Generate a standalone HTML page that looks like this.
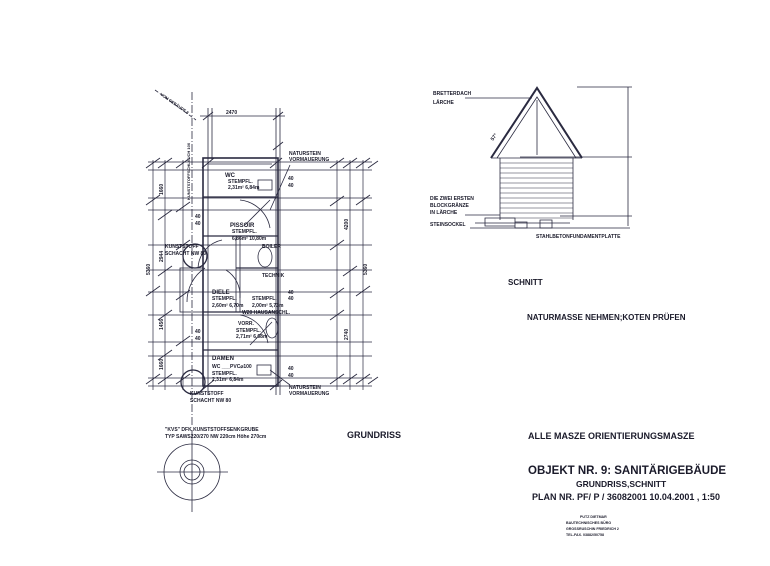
<!DOCTYPE html>
<html><head><meta charset="utf-8">
<style>
html,body{margin:0;padding:0;background:#fff;width:770px;height:566px;overflow:hidden}
svg{display:block}
text{font-family:"Liberation Sans",Arial,sans-serif;font-weight:bold;fill:#1a1a2a}
</style></head>
<body>
<svg width="770" height="566" viewBox="0 0 770 566" xmlns="http://www.w3.org/2000/svg">
<g id="plan" stroke="#2a2a40" fill="none" stroke-width="0.8">
 <!-- centerline -->
 <line x1="192" y1="92" x2="192" y2="425" stroke-dasharray="8,2,1,2"/>
 <line x1="155" y1="90" x2="196" y2="120" stroke-dasharray="4,2"/>
 <!-- top dimension -->
 <line x1="200" y1="116" x2="285" y2="116"/>
 <line x1="208" y1="108" x2="208" y2="395"/>
 <line x1="212" y1="108" x2="212" y2="160"/>
 <line x1="276" y1="108" x2="276" y2="395"/>
 <line x1="280" y1="108" x2="280" y2="395"/>
 <!-- walls -->
 <rect x="203" y="158" width="75" height="228" stroke-width="1.6"/>
 <line x1="208" y1="164" x2="272" y2="164"/>
 <line x1="203" y1="197" x2="278" y2="197" stroke-width="1.2"/>
 <line x1="203" y1="236" x2="278" y2="236" stroke-width="1.2"/>
 <line x1="236" y1="236" x2="236" y2="312"/>
 <line x1="240" y1="236" x2="240" y2="312"/>
 <line x1="236" y1="268" x2="278" y2="268" stroke-width="1.2"/>
 <line x1="203" y1="312" x2="278" y2="312" stroke-width="1.2"/>
 <line x1="203" y1="350" x2="278" y2="350" stroke-width="1.2"/>
 <rect x="180" y="268" width="23" height="44"/>
 <!-- extension lines -->
 <g stroke-width="0.7">
  <line x1="148" y1="162" x2="372" y2="162"/>
  <line x1="148" y1="170" x2="372" y2="170"/>
  <line x1="148" y1="198" x2="372" y2="198"/>
  <line x1="148" y1="210" x2="372" y2="210"/>
  <line x1="148" y1="245" x2="372" y2="245"/>
  <line x1="148" y1="270" x2="372" y2="270"/>
  <line x1="148" y1="292" x2="372" y2="292"/>
  <line x1="148" y1="315" x2="372" y2="315"/>
  <line x1="148" y1="342" x2="372" y2="342"/>
  <line x1="148" y1="356" x2="372" y2="356"/>
  <line x1="148" y1="378" x2="372" y2="378"/>
  <line x1="148" y1="386" x2="372" y2="386"/>
  <line x1="153" y1="160" x2="153" y2="390"/>
  <line x1="165" y1="160" x2="165" y2="390"/>
  <line x1="183" y1="160" x2="183" y2="390"/>
  <line x1="337" y1="160" x2="337" y2="390"/>
  <line x1="350" y1="160" x2="350" y2="390"/>
  <line x1="363" y1="160" x2="363" y2="390"/>
 </g>
 <!-- ticks -->
 <g stroke-width="0.9">
  <path d="M146 168l14-10M146 205l14-10M146 296l14-10M146 384l14-10M158 168l14-10M158 220l14-10M158 276l14-10M158 320l14-10M158 360l14-10M158 384l14-10M176 168l14-10M176 212l14-10M176 250l14-10M176 300l14-10M176 346l14-10M176 384l14-10"/>
  <path d="M330 168l14-10M330 206l14-10M330 250l14-10M330 298l14-10M330 320l14-10M330 384l14-10M343 168l14-10M343 276l14-10M343 384l14-10M356 168l14-10M356 205l14-10M356 296l14-10M356 384l14-10M368 168l10-7M368 384l10-7"/>
  <path d="M203 120l10-8M273 120l10-8M273 150l10-8M202 168l12-10M270 168l12-10M202 390l12-10M270 390l12-10"/>
 </g>
 <!-- doors -->
 <path d="M240 200 a34 34 0 0 1 30 28"/>
 <path d="M205 268 a40 40 0 0 0 -18 34"/>
 <path d="M222 240 a30 30 0 0 0 -24 28"/>
 <path d="M240 315 a34 34 0 0 1 28 28"/>
 <path d="M226 270 a30 30 0 0 1 14 28"/>
 <ellipse cx="265" cy="257" rx="7" ry="10"/>
 <ellipse cx="272" cy="328" rx="6" ry="10"/>
 <rect x="258" y="180" width="14" height="10"/>
 <rect x="257" y="365" width="14" height="10"/>
 <line x1="245" y1="225" x2="270" y2="200"/>
 <line x1="250" y1="345" x2="272" y2="322"/>
 <line x1="270" y1="210" x2="290" y2="165"/>
 <line x1="270" y1="370" x2="290" y2="385"/>
 <!-- shafts -->
 <circle cx="195" cy="256" r="12" stroke-width="1.3"/>
 <circle cx="193" cy="382" r="12" stroke-width="1.3"/>
 <!-- septic -->
 <line x1="192" y1="430" x2="192" y2="512"/>
 <line x1="157" y1="472" x2="228" y2="472"/>
 <circle cx="192" cy="472" r="28"/>
 <circle cx="192" cy="472" r="12"/>
 <circle cx="192" cy="472" r="8"/>
</g>
<g font-size="5">
 <text x="226" y="114">2470</text>
 <text x="225" y="177" font-size="6">WC</text>
 <text x="228" y="183">STEMPFL.</text>
 <text x="228" y="189">2,31m² 6,84m</text>
 <text x="230" y="227" font-size="6">PISSOIR</text>
 <text x="232" y="233">STEMPFL.</text>
 <text x="232" y="240">6,86m² 10,80m</text>
 <text x="165" y="248">KUNSTSTOFF</text>
 <text x="165" y="255">SCHACHT NW 80</text>
 <text x="262" y="248">BOILER</text>
 <text x="262" y="277">TECHNIK</text>
 <text x="212" y="294" font-size="6">DIELE</text>
 <text x="212" y="300">STEMPFL.</text>
 <text x="212" y="307">2,60m² 6,70m</text>
 <text x="252" y="300">STEMPFL.</text>
 <text x="252" y="307">2,00m² 5,73m</text>
 <text x="242" y="314">W20 HAUSANSCHL.</text>
 <text x="238" y="325">VORR.</text>
 <text x="236" y="332">STEMPFL.</text>
 <text x="236" y="338">2,71m² 6,68m</text>
 <text x="212" y="360" font-size="6">DAMEN</text>
 <text x="212" y="368">WC ___PVC⌀100</text>
 <text x="212" y="375">STEMPFL.</text>
 <text x="212" y="381">2,31m² 6,84m</text>
 <text x="289" y="155">NATURSTEIN</text>
 <text x="289" y="161">VORMAUERUNG</text>
 <text x="289" y="389">NATURSTEIN</text>
 <text x="289" y="395">VORMAUERUNG</text>
 <text x="190" y="395">KUNSTSTOFF</text>
 <text x="190" y="402">SCHACHT NW 80</text>
 <text x="288" y="180">40</text><text x="288" y="187">40</text>
 <text x="288" y="294">40</text><text x="288" y="300">40</text>
 <text x="288" y="370">40</text><text x="288" y="377">40</text>
 <text x="195" y="218">40</text><text x="195" y="225">40</text>
 <text x="195" y="333">40</text><text x="195" y="340">40</text>
 <text x="165" y="431">"KVS" DFK KUNSTSTOFFSENKGRUBE</text>
 <text x="165" y="438">TYP SAWS220/270  NW 220cm  Höhe 270cm</text>
 <g transform="rotate(-90)">
  <text x="-275" y="150">5360</text><text x="-275" y="367">5360</text>
  <text x="-195" y="163">1660</text><text x="-262" y="163">2944</text>
  <text x="-330" y="163">1456</text><text x="-370" y="163">1660</text>
  <text x="-230" y="348">4200</text><text x="-340" y="348">2740</text>
  <text x="-200" y="190" font-size="4">KUNSTSTOFFSCHLAUCH 100</text>
 </g>
 <text x="160" y="95" font-size="4" transform="rotate(35 160 95)">VOM GEBÄUDE 8</text>
</g>
<text x="347" y="438" font-size="9">GRUNDRISS</text>

<!-- section -->
<g stroke="#2a2a40" fill="none" stroke-width="0.8">
 <path d="M491 158 L537 88 L582 158" stroke-width="2"/>
 <path d="M497 158 L537 97 L576 158"/>
 <line x1="537" y1="100" x2="537" y2="155"/>
 <line x1="491" y1="158" x2="582" y2="158"/>
 <line x1="500" y1="158" x2="500" y2="220"/>
 <line x1="573" y1="158" x2="573" y2="220"/>
 <path d="M500 163H573M500 168H573M500 173H573M500 178H573M500 183H573M500 188H573M500 193H573M500 198H573M500 203H573M500 208H573M500 213H573M500 218H573" stroke-width="0.6"/>
 <path d="M475 223H570M470 228H630M577 87H632M520 157H632M560 216H632"/>
 <line x1="628" y1="87" x2="628" y2="226"/>
 <path d="M485 218h30v8h-30zM515 222h12v6h-12zM540 220h12v8h-12z"/>
 <line x1="465" y1="98" x2="532" y2="98"/>
 <line x1="465" y1="215" x2="500" y2="215"/>
</g>
<g font-size="5">
 <text x="433" y="95">BRETTERDACH</text>
 <text x="433" y="104">LÄRCHE</text>
 <text x="430" y="200">DIE ZWEI ERSTEN</text>
 <text x="430" y="207">BLOCKGRÄNZE</text>
 <text x="430" y="214">IN LÄRCHE</text>
 <text x="430" y="226">STEINSOCKEL</text>
 <text x="536" y="238">STAHLBETONFUNDAMENTPLATTE</text>
 <text x="493" y="141" transform="rotate(-55 493 141)">57°</text>
</g>
<text x="508" y="285" font-size="8">SCHNITT</text>
<text x="527" y="320" font-size="8">NATURMASSE NEHMEN;KOTEN PRÜFEN</text>
<text x="528" y="439" font-size="9">ALLE MASZE ORIENTIERUNGSMASZE</text>
<text x="528" y="474" font-size="11.5">OBJEKT NR. 9:  SANITÄRIGEBÄUDE</text>
<text x="576" y="487" font-size="8.5">GRUNDRISS,SCHNITT</text>
<text x="532" y="500" font-size="9">PLAN NR. PF/ P / 36082001  10.04.2001 , 1:50</text>
<g font-size="3.6" font-family="Liberation Mono,monospace">
 <text x="580" y="518">PUTZ DIETMAR</text>
 <text x="566" y="524">BAUTECHNISCHES BÜRO</text>
 <text x="566" y="530">GROSSRUSCHIN FRIEDRICH 2</text>
 <text x="566" y="536">TEL-FAX. 03882/50758</text>
</g>
</svg>
</body></html>
